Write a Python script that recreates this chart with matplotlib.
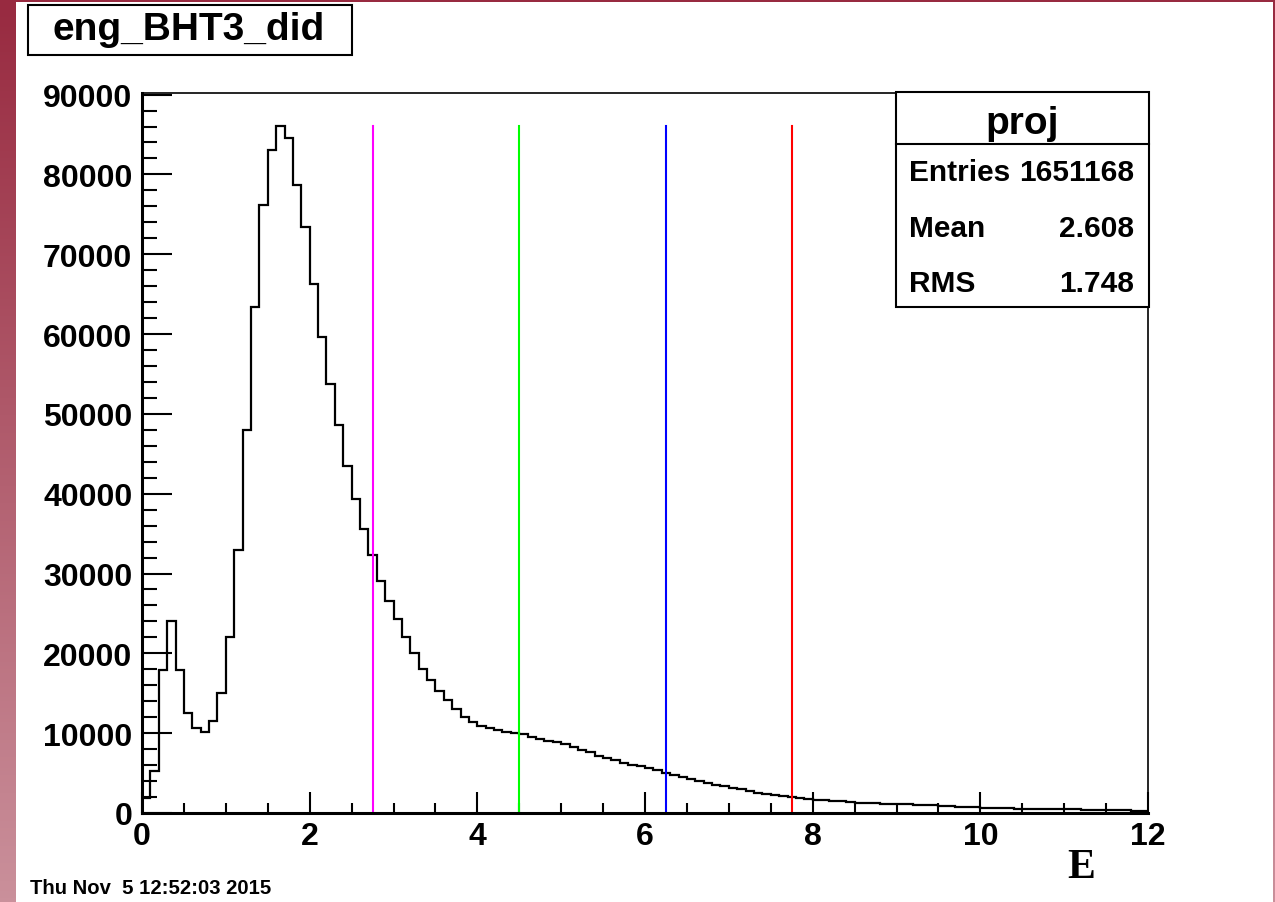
import numpy as np
import matplotlib.pyplot as plt
from matplotlib.patches import Rectangle
from matplotlib.lines import Line2D

# histogram eng_BHT3_did, 120 bins of 0.1 between 0 and 12
bin_edges = np.linspace(0, 12, 121)
counts = [1900, 5200, 17900, 24000, 17900, 12500, 10600, 10200, 11500, 15000,
          22000, 32950, 48040, 63330, 76160, 83000, 86040, 84540, 78630, 73450,
          66330, 59660, 53790, 48630, 43500, 39380, 35540, 32290, 29040, 26600,
          24300, 22000, 20000, 18000, 16600, 15300, 14200, 13000, 12000, 11450,
          10950, 10660, 10410, 10200, 10000, 9900, 9580, 9290, 9080, 8950,
          8660, 8250, 7950, 7620, 7200, 6910, 6580, 6250, 6040, 5830,
          5660, 5350, 5000, 4700, 4500, 4200, 3950, 3750, 3540, 3330,
          3120, 2950, 2750, 2540, 2370, 2250, 2120, 2000, 1870, 1790,
          1660, 1580, 1500, 1450, 1370, 1290, 1250, 1220, 1180, 1150,
          1120, 1080, 1040, 1000, 950, 910, 860, 800, 750, 700,
          660, 640, 610, 590, 560, 540, 530, 510, 490, 470,
          460, 440, 420, 400, 390, 370, 350, 330, 310, 290]

# cut lines
cut_values = [2.75, 4.5, 6.25, 7.75]
cut_colors = ['#ff00ff', '#00ff00', '#0000ff', '#ff0000']

hist_title = 'eng_BHT3_did'
stats_name = 'proj'
stats_rows = [('Entries', '1651168'), ('Mean', '2.608'), ('RMS', '1.748')]
date_text = 'Thu Nov  5 12:52:03 2015'

plt.rcParams['font.family'] = ['Liberation Sans', 'DejaVu Sans']
plt.rcParams['font.weight'] = 'bold'

W, H = 1275, 903
fig = plt.figure(figsize=(W / 100, H / 100), dpi=100)
fig.patch.set_facecolor('white')

def fx(px):
    return px / W

def fy(py):
    return 1 - py / H

# window border (reddish gradient at left, top and right)
grad = np.linspace(0, 1, 256).reshape(-1, 1)
top_c = np.array([152, 42, 64]) / 255
bot_c = np.array([202, 144, 155]) / 255
img = top_c + grad[..., None] * (bot_c - top_c)
img = img.reshape(256, 1, 3)
for x0, w in [(0, 16), (1273, 2)]:
    bax = fig.add_axes([fx(x0), 0, fx(w), 1])
    bax.imshow(img, aspect='auto', extent=(0, 1, 0, 1))
    bax.axis('off')
fig.patches.append(Rectangle((0, fy(3)), 1, 3 / H, transform=fig.transFigure,
                             facecolor=top_c, edgecolor='none', zorder=5))

# main axes
ax = fig.add_axes([fx(142), fy(814), fx(1148 - 142), (814 - 94) / H])
ax.stairs(counts, bin_edges, color='black', linewidth=1.6, baseline=0)
ymax = max(counts)
for v, c in zip(cut_values, cut_colors):
    ax.plot([v, v], [0, ymax], color=c, linewidth=1.5)

ax.set_xlim(0, 12)
ax.set_ylim(0, 90200)
ax.set_xticks(np.arange(0, 13, 2))
ax.set_xticks(np.arange(0, 12.01, 0.5), minor=True)
ax.set_yticks(np.arange(0, 90001, 10000))
ax.set_yticks(np.arange(0, 90001, 2000), minor=True)
ax.tick_params(axis='x', which='major', direction='in', length=15, width=1.5,
               labelsize=23, pad=6)
ax.tick_params(axis='x', which='minor', direction='in', length=7.5, width=1.5)
ax.tick_params(axis='y', which='major', direction='in', length=21.6, width=1.5,
               labelsize=23, pad=7)
ax.tick_params(axis='y', which='minor', direction='in', length=10.8, width=1.5)
for s in ['top', 'right']:
    ax.spines[s].set_linewidth(1.2)
for s in ['left', 'bottom']:
    ax.spines[s].set_linewidth(2.2)

# x axis title
fig.text(fx(1081), fy(878), 'E', family='Liberation Serif', weight='bold',
         fontsize=30, ha='center', va='baseline')

# title box
fig.patches.append(Rectangle((fx(28), fy(56)), fx(352 - 28), (56 - 6) / H,
                             transform=fig.transFigure, facecolor='white',
                             edgecolor='black', linewidth=1.5))
fig.text(fx(189), fy(40), hist_title, fontsize=28, ha='center', va='baseline')

# stats box
fig.patches.append(Rectangle((fx(896), fy(308)), fx(1149 - 896), (308 - 93) / H,
                             transform=fig.transFigure, facecolor='white',
                             edgecolor='black', linewidth=1.5, zorder=3))
fig.lines.append(Line2D([fx(896), fx(1149)], [fy(145), fy(145)],
                        transform=fig.transFigure, color='black', linewidth=1.5,
                        zorder=4))
fig.text(fx(1022), fy(134), stats_name, fontsize=28, ha='center', va='baseline',
         zorder=4)
for (lab, val), yb in zip(stats_rows, [181, 237, 292]):
    fig.text(fx(909), fy(yb), lab, fontsize=21.5, ha='left', va='baseline', zorder=4)
    fig.text(fx(1134), fy(yb), val, fontsize=21.5, ha='right', va='baseline', zorder=4)

# date stamp
fig.text(fx(30), fy(894), date_text, fontsize=14.6, ha='left', va='baseline')

fig.savefig('out.png', dpi=100)
